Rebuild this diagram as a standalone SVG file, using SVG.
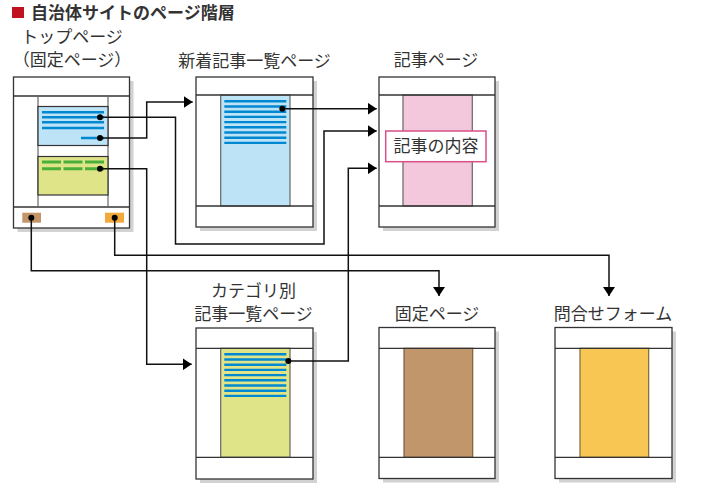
<svg xmlns="http://www.w3.org/2000/svg" width="701" height="499" viewBox="0 0 701 499">
<style>
text{font-family:"Noto Sans CJK JP","Noto Sans",sans-serif;fill:#333;font-size:17px;text-anchor:middle}
.title{font-weight:bold;text-anchor:start}
.shadow{fill:#d2d2d2}
.frame{fill:#fff;stroke:#333;stroke-width:1.3}
.sep{stroke:#333;stroke-width:1.3;fill:none}
.col{stroke:#666;stroke-width:1.2}
.bl{stroke:#0088d1;stroke-width:2.4}
.gr{stroke:#4aae3a;stroke-width:3}
.conn{fill:none;stroke:#111;stroke-width:1.5}
.dot{fill:#000}
</style>
<defs>
<marker id="arr" markerUnits="userSpaceOnUse" markerWidth="9" markerHeight="12" viewBox="0 0 9 12" refX="9" refY="6" orient="auto"><path d="M0,0 L9,6 L0,12 Z" fill="#000"/></marker>
</defs>

<g id="title">
<rect x="12" y="7" width="12" height="11" fill="#c0121f"/>
<text class="title" x="31" y="19">自治体サイトのページ階層</text>
</g>

<g id="top-page">
<text x="72" y="43">トップページ</text>
<text x="72" y="66">（固定ページ）</text>
<rect class="shadow" x="17.5" y="81" width="116" height="151"/>
<rect class="frame" x="13.5" y="77" width="116" height="151"/>
<line class="sep" x1="13.5" y1="96" x2="129.5" y2="96"/>
<line class="sep" x1="13.5" y1="207" x2="129.5" y2="207"/>
<line class="col" x1="38" y1="96" x2="38" y2="207"/>
<line class="col" x1="108" y1="96" x2="108" y2="207"/>
<rect x="38" y="106.5" width="70" height="39" fill="#bde3f7" stroke="#333" stroke-width="1.2"/>
<path class="bl" d="M42,112.3H104M42,117.3H104M42,122.3H104M42,128H104M81,138H104"/>
<rect x="38" y="156.5" width="70" height="38.5" fill="#e0e488" stroke="#333" stroke-width="1.2"/>
<path class="gr" d="M42,162H61M63.5,162H82.5M85,162H104M42,168.7H61M63.5,168.7H82.5M85,168.7H104"/>
<rect x="22.3" y="212.7" width="18.7" height="10" fill="#c3966a"/>
<rect x="105" y="212.7" width="19" height="10" fill="#f2a93b"/>
</g>

<g id="new-articles">
<text x="254.5" y="67">新着記事一覧ページ</text>
<rect class="shadow" x="200" y="81" width="117" height="150"/>
<rect class="frame" x="196" y="77" width="117" height="150"/>
<rect x="220.7" y="95" width="69.3" height="111" fill="#bde3f7" class="col"/>
<line class="sep" x1="196" y1="95" x2="313" y2="95"/>
<line class="sep" x1="196" y1="206" x2="313" y2="206"/>
<path class="bl" d="M224.3,101.3H286.3M224.3,106.5H286.3M224.3,111.7H286.3M224.3,116.9H286.3M224.3,122.1H286.3M224.3,127.3H286.3M224.3,132.5H286.3M224.3,137.7H286.3M224.3,142.9H286.3"/>
</g>

<g id="article">
<text x="436" y="66">記事ページ</text>
<rect class="shadow" x="383" y="81" width="116" height="150"/>
<rect class="frame" x="379" y="77" width="116" height="150"/>
<rect x="403" y="95" width="69.3" height="111" fill="#f3c7dc" class="col"/>
<line class="sep" x1="379" y1="95" x2="495" y2="95"/>
<line class="sep" x1="379" y1="206" x2="495" y2="206"/>
<rect x="385.7" y="131" width="100.3" height="30.7" fill="#fff" stroke="#d94f88" stroke-width="1.5"/>
<text x="436" y="152">記事の内容</text>
</g>

<g id="category">
<text x="253.5" y="297">カテゴリ別</text>
<text x="253.5" y="320">記事一覧ページ</text>
<rect class="shadow" x="200" y="332" width="117" height="151"/>
<rect class="frame" x="196" y="328" width="117" height="151"/>
<rect x="220.7" y="348.3" width="69.3" height="109" fill="#e0e488" class="col"/>
<line class="sep" x1="196" y1="348.3" x2="313" y2="348.3"/>
<line class="sep" x1="196" y1="457.3" x2="313" y2="457.3"/>
<path class="bl" d="M224.3,354.3H286.3M224.3,359.5H286.3M224.3,364.7H286.3M224.3,369.9H286.3M224.3,375.1H286.3M224.3,380.3H286.3M224.3,385.5H286.3M224.3,390.7H286.3M224.3,395.9H286.3"/>
</g>

<g id="fixed">
<text x="437" y="320">固定ページ</text>
<rect class="shadow" x="383" y="331.5" width="116" height="151"/>
<rect class="frame" x="379" y="327.5" width="116" height="151"/>
<rect x="404" y="348.3" width="68.7" height="109" fill="#c1966b" stroke="#7a5c3c" stroke-width="1.2"/>
<line class="sep" x1="379" y1="348.3" x2="495" y2="348.3"/>
<line class="sep" x1="379" y1="457.3" x2="495" y2="457.3"/>
</g>

<g id="contact">
<text x="613" y="320">問合せフォーム</text>
<rect class="shadow" x="559" y="331.5" width="117" height="151"/>
<rect class="frame" x="555" y="327.5" width="117" height="151"/>
<rect x="580" y="348.3" width="68.7" height="109" fill="#f8c653" stroke="#7a6a3c" stroke-width="1.2"/>
<line class="sep" x1="555" y1="348.3" x2="672" y2="348.3"/>
<line class="sep" x1="555" y1="457.3" x2="672" y2="457.3"/>
</g>

<g id="connectors">
<path class="conn" d="M100,117.3H175.5V244H324V131H376.7" marker-end="url(#arr)"/>
<path class="conn" d="M100,138H146.7V102H192.7" marker-end="url(#arr)"/>
<path class="conn" d="M100,168.7H146.7V364.3H191.7" marker-end="url(#arr)"/>
<path class="conn" d="M31.3,217.7V270.7H439V296" marker-end="url(#arr)"/>
<path class="conn" d="M114.7,217.7V255.3H609V296" marker-end="url(#arr)"/>
<path class="conn" d="M282.3,108.7H376.7" marker-end="url(#arr)"/>
<path class="conn" d="M288.3,361H348.3V168.3H376.7" marker-end="url(#arr)"/>
<circle class="dot" cx="100" cy="117.3" r="3"/>
<circle class="dot" cx="100" cy="138" r="3"/>
<circle class="dot" cx="100" cy="168.7" r="3"/>
<circle class="dot" cx="31.3" cy="217.7" r="3"/>
<circle class="dot" cx="114.7" cy="217.7" r="3"/>
<circle class="dot" cx="282.3" cy="108.7" r="3"/>
<circle class="dot" cx="288.3" cy="361" r="3"/>
</g>
</svg>
